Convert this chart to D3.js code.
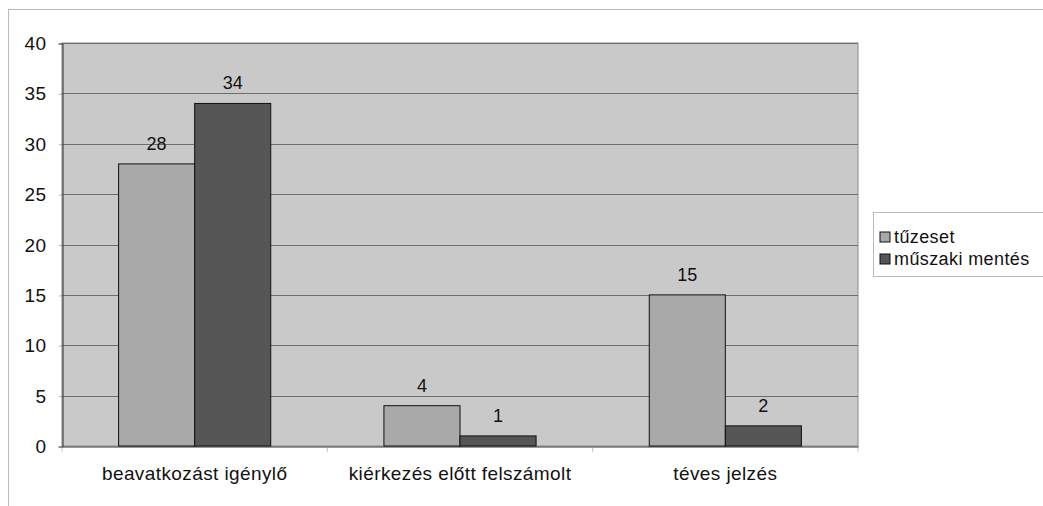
<!DOCTYPE html>
<html>
<head>
<meta charset="utf-8">
<script src="https://cdn.jsdelivr.net/npm/d3@7"></script>
<style>
    body { margin: 0; background: #fff; }
    svg text { font-family: "Liberation Sans", Arial, sans-serif; fill: #111; }
</style>
</head>
<body>
<svg id="chart" width="1043" height="506"></svg>
<script>
// data
const categories = ["beavatkozást igénylő", "kiérkezés előtt felszámolt", "téves jelzés"];
const seriesNames = ["tűzeset", "műszaki mentés"];
const tuzeset = [28, 4, 15];
const muszaki = [34, 1, 2];
const yTicks = [0, 5, 10, 15, 20, 25, 30, 35, 40];

const colors = ["#a9a9a9", "#565656"];
const svg = d3.select("#chart");

// settings
const plotLeft = 62, plotRight = 858, plotTop = 43, plotBottom = 446;

// outer frame
svg.append("rect")
    .attr("x", 8.5).attr("y", 9.5)
    .attr("width", 1050).attr("height", 510)
    .attr("fill", "none")
    .attr("stroke", "#777")
    .attr("stroke-dasharray", "1,1");

let x0 = d3.scaleBand().domain(categories).range([plotLeft, plotRight]).paddingInner(0).paddingOuter(0);
let x1 = d3.scaleBand().domain(seriesNames).range([0, x0.bandwidth()]).paddingInner(0).paddingOuter(0.744);
let y = d3.scaleLinear().domain([0, 40]).range([plotBottom, plotTop]);

// plot background
svg.append("rect")
    .attr("x", plotLeft).attr("y", plotTop)
    .attr("width", plotRight - plotLeft).attr("height", plotBottom - plotTop)
    .attr("fill", "#c9c9c9")
    .attr("stroke", "#8a8a8a");

// grid lines
svg.append("g")
    .selectAll("line")
    .data(yTicks.filter(d => d > 0))
    .join("line")
    .attr("x1", plotLeft).attr("x2", plotRight)
    .attr("y1", d => Math.round(y(d)) + 0.5).attr("y2", d => Math.round(y(d)) + 0.5)
    .attr("stroke", "#6e6e6e")
    .attr("stroke-width", 1);

// y axis
let yAxis = d3.axisLeft(y).tickValues(yTicks).tickSize(4).tickPadding(12);
let yg = svg.append("g")
    .attr("transform", "translate(" + (plotLeft + 0.5) + ",0.5)")
    .call(yAxis);
yg.select(".domain").attr("stroke", "#333");
yg.selectAll(".tick line").attr("stroke", "#666").attr("stroke-dasharray", "1,1");
yg.selectAll("text").style("font-size", "19px").style("letter-spacing", "0.4px").attr("fill", "#111");

// x axis
let xAxis = d3.axisBottom(x0).tickSize(0).tickPadding(20);
let xg = svg.append("g")
    .attr("transform", "translate(0," + (plotBottom + 0.5) + ")")
    .call(xAxis);
xg.select(".domain").attr("stroke", "#333");
xg.selectAll("text").style("font-size", "19px").style("letter-spacing", "0.4px").attr("fill", "#111");
xg.selectAll(".sep")
    .data(d3.range(categories.length + 1))
    .join("line")
    .attr("class", "sep")
    .attr("x1", i => plotLeft + i * x0.step()).attr("x2", i => plotLeft + i * x0.step())
    .attr("y1", 0).attr("y2", 5)
    .attr("stroke", "#888")
    .attr("stroke-dasharray", "1,1");

// bars
const rows = categories.map((c, i) => ({ cat: c, vals: [tuzeset[i], muszaki[i]] }));
let groups = svg.append("g")
    .selectAll("g")
    .data(rows)
    .join("g")
    .attr("transform", d => "translate(" + x0(d.cat) + ",0)");

groups.selectAll("rect")
    .data(d => d.vals.map((v, j) => ({ key: seriesNames[j], v: v, j: j })))
    .join("rect")
    .attr("x", d => x1(d.key))
    .attr("y", d => y(d.v))
    .attr("width", x1.bandwidth())
    .attr("height", d => plotBottom - y(d.v))
    .attr("fill", d => colors[d.j])
    .attr("stroke", "#111")
    .attr("stroke-width", 1);

groups.selectAll("text")
    .data(d => d.vals.map((v, j) => ({ key: seriesNames[j], v: v })))
    .join("text")
    .attr("x", d => x1(d.key) + x1.bandwidth() / 2)
    .attr("y", d => y(d.v) - 14)
    .attr("text-anchor", "middle")
    .style("font-size", "18px")
    .text(d => d.v);

// legend
let legend = svg.append("g");
legend.append("rect")
    .attr("x", 873.5).attr("y", 212.5)
    .attr("width", 180).attr("height", 64)
    .attr("fill", "#fff")
    .attr("stroke", "#777")
    .attr("stroke-dasharray", "1,1");
let items = legend.selectAll("g.item")
    .data(seriesNames)
    .join("g")
    .attr("class", "item")
    .attr("transform", (d, i) => "translate(880," + (232 + i * 22) + ")");
items.append("rect")
    .attr("width", 10).attr("height", 10)
    .attr("fill", (d, i) => colors[i])
    .attr("stroke", "#111");
items.append("text")
    .attr("x", 14).attr("y", 11)
    .style("font-size", "18px")
    .style("letter-spacing", "0.4px")
    .text(d => d);
</script>
</body>
</html>
